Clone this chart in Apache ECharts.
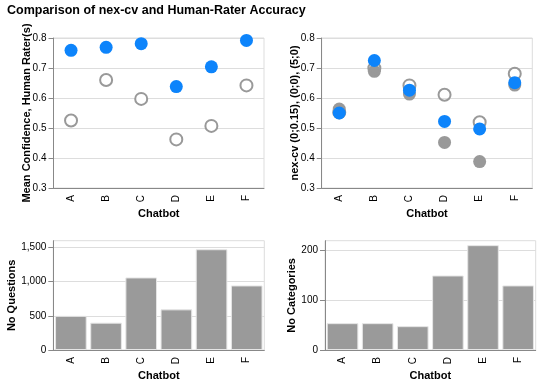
<!DOCTYPE html>
<html><head><meta charset="utf-8">
<script src="https://cdn.jsdelivr.net/npm/echarts@6/dist/echarts.min.js"></script>
<style>html,body{margin:0;padding:0;background:#fff}#c{width:541px;height:386px}</style>
</head><body><div id="c"></div>
<script>
const chatbots = ['A','B','C','D','E','F'];
// Top-left: mean confidence
const confNexcv = [0.759, 0.769, 0.781, 0.638, 0.704, 0.792];
const confHuman = [0.525, 0.660, 0.597, 0.462, 0.507, 0.642];
// Top-right: nex-cv accuracy at three settings
const accOpen = [0.552, 0.699, 0.642, 0.611, 0.519, 0.681];
const accGray = [0.563, 0.689, 0.613, 0.452, 0.388, 0.643];
const accBlue = [0.550, 0.725, 0.626, 0.522, 0.497, 0.651];
// Bottom: counts
const noQuestions = [500, 400, 1062, 595, 1475, 945];
const noCategories = [54, 54, 48, 150, 211, 130];

const FONT = 'Liberation Sans, Arial, sans-serif';
const BLUE = '#0d84fb', GRAY = '#999999';

function xAxis(i){
  return {
    type:'category', gridIndex:i, data:chatbots,
    name:'Chatbot', nameLocation:'middle', nameGap:20, nameMoveOverlap:false,
    nameTextStyle:{fontFamily:FONT,fontSize:11,fontWeight:'bold',color:'#000',verticalAlign:'top'},
    axisLine:{lineStyle:{color:'#888'}},
    axisTick:{alignWithLabel:true,length:5,lineStyle:{color:'#888'}},
    axisLabel:{rotate:90,margin:7,fontFamily:FONT,fontSize:10,color:'#000'},
    splitLine:{show:false}
  };
}
function yAxis(i,name,gap,min,max,interval,vals,fmt){
  return {
    type:'value', gridIndex:i, min:min, max:max, interval:interval,
    name:name, nameLocation:'middle', nameGap:gap, nameMoveOverlap:false,
    nameTextStyle:{fontFamily:FONT,fontSize:11,fontWeight:'bold',color:'#000'},
    axisLine:{show:true,lineStyle:{color:'#888'}},
    axisTick:{show:true,length:5,lineStyle:{color:'#888'},customValues:vals},
    axisLabel:{margin:7,fontFamily:FONT,fontSize:10,color:'#000',customValues:vals,formatter:fmt},
    splitLine:{lineStyle:{color:'#ddd'}}
  };
}
const decFmt = v => v.toFixed(1);
const intFmt = v => v.toLocaleString('en-US');

const chart = echarts.init(document.getElementById('c'));
chart.setOption({
  animation:false,
  title:{text:'Comparison of nex-cv and Human-Rater Accuracy',left:7,top:4,padding:0,
    textStyle:{fontFamily:FONT,fontSize:12.5,fontWeight:'bold',color:'#000'}},
  grid:[
    {left:53.5,top:38,width:210.5,height:150,show:true,borderColor:'#ddd',borderWidth:1},
    {left:321.7,top:38,width:210.6,height:150,show:true,borderColor:'#ddd',borderWidth:1},
    {left:53.3,top:240.7,width:211,height:109.3,show:true,borderColor:'#ddd',borderWidth:1},
    {left:325,top:240.7,width:210.7,height:109.3,show:true,borderColor:'#ddd',borderWidth:1}
  ],
  xAxis:[xAxis(0),xAxis(1),xAxis(2),xAxis(3)],
  yAxis:[
    yAxis(0,'Mean Confidence, Human Rater(s)',21,0.3,0.8,0.1,[0.3,0.4,0.5,0.6,0.7,0.8],decFmt),
    yAxis(1,'nex-cv (0;0.15), (0;0), (5;0)',21,0.3,0.8,0.1,[0.3,0.4,0.5,0.6,0.7,0.8],decFmt),
    yAxis(2,'No Questions',36,0,1600,500,[0,500,1000,1500],intFmt),
    yAxis(3,'No Categories',28,0,220,100,[0,100,200],intFmt)
  ],
  series:[
    {type:'scatter',xAxisIndex:0,yAxisIndex:0,data:confHuman,symbolSize:12,
      itemStyle:{color:'#fff',borderColor:GRAY,borderWidth:2,opacity:1}},
    {type:'scatter',xAxisIndex:0,yAxisIndex:0,data:confNexcv,symbolSize:13,
      itemStyle:{color:BLUE,opacity:1}},
    {type:'scatter',xAxisIndex:1,yAxisIndex:1,data:accGray,symbolSize:13,
      itemStyle:{color:GRAY,opacity:1}},
    {type:'scatter',xAxisIndex:1,yAxisIndex:1,data:accOpen,symbolSize:12,
      itemStyle:{color:'rgba(0,0,0,0)',borderColor:GRAY,borderWidth:2,opacity:1}},
    {type:'scatter',xAxisIndex:1,yAxisIndex:1,data:accBlue,symbolSize:13,
      itemStyle:{color:BLUE,opacity:1}},
    {type:'bar',xAxisIndex:2,yAxisIndex:2,data:noQuestions,barCategoryGap:'10%',
      itemStyle:{color:'#9a9a9a',borderColor:'#e6e6e6',borderWidth:1}},
    {type:'bar',xAxisIndex:3,yAxisIndex:3,data:noCategories,barCategoryGap:'10%',
      itemStyle:{color:'#9a9a9a',borderColor:'#e6e6e6',borderWidth:1}}
  ]
});
</script></body></html>
